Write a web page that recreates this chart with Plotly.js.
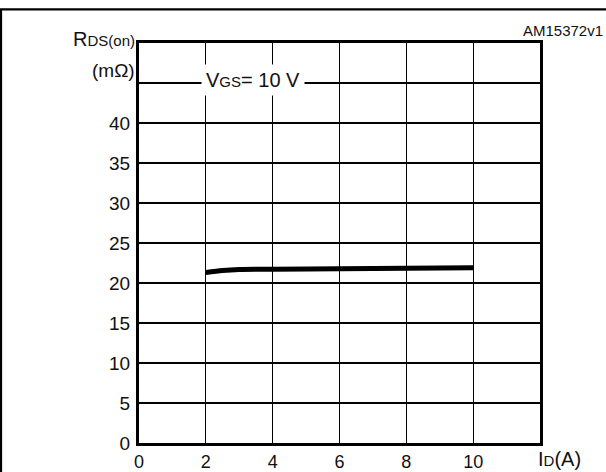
<!DOCTYPE html>
<html>
<head>
<meta charset="utf-8">
<script src="https://cdn.plot.ly/plotly-3.0.1.min.js"></script>
<style>html,body{margin:0;padding:0;background:#fff;}#chart{width:606px;height:472px;}</style>
</head>
<body>
<div id="chart"></div>
<script>
// Data
const currentA = [2, 2.5, 3, 4, 6, 8, 10];
const rdsOn = [21.3, 21.55, 21.68, 21.72, 21.78, 21.84, 21.9];
const xTickVals = [0, 2, 4, 6, 8, 10, 12];
const xTickText = ['0', '2', '4', '6', '8', '10', ''];
const yTickVals = [0, 5, 10, 15, 20, 25, 30, 35, 40, 45, 50];
const yTickText = ['0', '5', '10', '15', '20', '25', '30', '35', '40', '', ''];

const FONT = 'Liberation Sans, Arial, sans-serif';
const INK = '#111';

const trace = {
  x: currentA, y: rdsOn, type: 'scatter', mode: 'lines',
  line: {color: '#000', width: 5, shape: 'spline', smoothing: 0.8},
  hoverinfo: 'skip', showlegend: false
};

const layout = {
  width: 606, height: 472,
  margin: {l: 139, r: 66, t: 43, b: 29},
  paper_bgcolor: '#fff', plot_bgcolor: '#fff',
  font: {family: FONT, size: 19, color: INK},
  xaxis: {
    range: [0, 12], tickmode: 'array', tickvals: xTickVals, ticktext: xTickText,
    showgrid: true, gridcolor: '#000', gridwidth: 1.2,
    showline: true, linecolor: '#000', linewidth: 3, mirror: true,
    ticks: '', zeroline: false, fixedrange: true,
    tickfont: {family: FONT, size: 18, color: INK}, ticklabelstandoff: 0
  },
  yaxis: {
    range: [0, 50], tickmode: 'array', tickvals: yTickVals, ticktext: yTickText,
    showgrid: true, gridcolor: '#000', gridwidth: 1.2,
    showline: true, linecolor: '#000', linewidth: 3, mirror: true,
    ticks: '', zeroline: false, fixedrange: true,
    tickfont: {family: FONT, size: 19, color: INK}, ticklabelstandoff: 2
  },
  shapes: [
    {type: 'rect', xref: 'paper', yref: 'paper', x0: -0.3441, x1: 1.5, y0: -0.3, y1: 1.084,
     line: {color: '#000', width: 2.2}, fillcolor: 'rgba(0,0,0,0)', layer: 'below'}
  ],
  annotations: [
    {xref: 'x', yref: 'y', x: 3.4, y: 45.4, xanchor: 'center', yanchor: 'middle', showarrow: false,
     text: 'V<span style="font-size:15px">GS</span>= 10 V', bgcolor: '#fff', borderpad: 4,
     font: {family: FONT, size: 20, color: INK}},
    {xref: 'paper', yref: 'paper', x: -0.004, y: 1.01, xanchor: 'right', yanchor: 'middle', showarrow: false,
     text: 'R<span style="font-size:15px">DS(on)</span>', font: {family: FONT, size: 20, color: INK}},
    {xref: 'paper', yref: 'paper', x: -0.004, y: 0.93, xanchor: 'right', yanchor: 'middle', showarrow: false,
     text: '(mΩ)', font: {family: FONT, size: 19, color: INK}},
    {xref: 'paper', yref: 'paper', x: 1.162, y: 1.032, xanchor: 'right', yanchor: 'middle', showarrow: false,
     text: 'AM15372v1', font: {family: FONT, size: 15, color: INK}},
    {xref: 'paper', yref: 'paper', x: 0.99, y: -0.04, xanchor: 'left', yanchor: 'middle', showarrow: false,
     text: 'I<span style="font-size:15px">D</span>(A)', font: {family: FONT, size: 20, color: INK}}
  ]
};

Plotly.newPlot('chart', [trace], layout, {displayModeBar: false, staticPlot: true});
</script>
</body>
</html>
